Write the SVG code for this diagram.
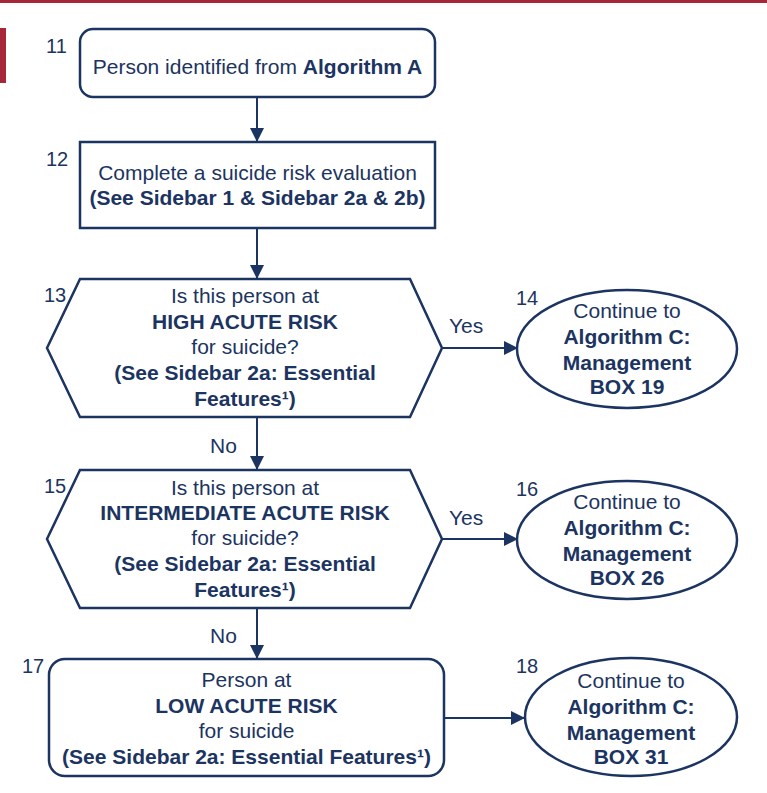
<svg xmlns="http://www.w3.org/2000/svg" width="767" height="793" viewBox="0 0 767 793">
<style>
.t{font-family:"Liberation Sans",Arial,sans-serif;font-size:21px;fill:#1c3461;text-anchor:middle}
.b{font-weight:bold}
.n{font-family:"Liberation Sans",Arial,sans-serif;font-size:20px;fill:#1c3461}
.y{font-family:"Liberation Sans",Arial,sans-serif;font-size:21px;fill:#1c3461}
.s{fill:#fff;stroke:#1c3461;stroke-width:2.5}
.c{stroke:#1c3461;stroke-width:2;fill:none}
</style>
<defs>
<marker id="ah" markerUnits="userSpaceOnUse" markerWidth="14" markerHeight="14" viewBox="0 0 14 14" refX="14" refY="7" orient="auto">
<path d="M0,0 L14,7 L0,14 Z" fill="#1c3461"/>
</marker>
</defs>
<rect x="0" y="0" width="767" height="3" fill="#a6263a"/>
<rect x="0" y="28" width="6" height="55" fill="#a6263a"/>

<g id="connectors">
<line class="c" x1="257" y1="97" x2="257" y2="142" marker-end="url(#ah)"/>
<line class="c" x1="257" y1="228" x2="257" y2="279" marker-end="url(#ah)"/>
<line class="c" x1="257" y1="417" x2="257" y2="470" marker-end="url(#ah)"/>
<line class="c" x1="257" y1="608" x2="257" y2="659" marker-end="url(#ah)"/>
<line class="c" x1="442" y1="348" x2="518" y2="348" marker-end="url(#ah)"/>
<line class="c" x1="442" y1="539" x2="518" y2="539" marker-end="url(#ah)"/>
<line class="c" x1="444" y1="718" x2="525" y2="718" marker-end="url(#ah)"/>
<text class="y" x="449" y="333">Yes</text>
<text class="y" x="449" y="525">Yes</text>
<text class="y" x="210" y="453">No</text>
<text class="y" x="210" y="643">No</text>
</g>

<g id="n11">
<rect class="s" x="80" y="29" width="355" height="68" rx="13"/>
<text class="n" x="46" y="53">11</text>
<text class="t" x="257.5" y="74">Person identified from <tspan class="b">Algorithm A</tspan></text>
</g>

<g id="n12">
<rect class="s" x="80" y="142" width="355" height="86"/>
<text class="n" x="46" y="166">12</text>
<text class="t" x="257.5" y="180">Complete a suicide risk evaluation</text>
<text class="t b" x="257.5" y="205">(See Sidebar 1 &amp; Sidebar 2a &amp; 2b)</text>
</g>

<g id="n13">
<polygon class="s" points="80,279 410,279 442,348 410,417 80,417 47,348"/>
<text class="n" x="44" y="302">13</text>
<text class="t" x="245" y="303">Is this person at</text>
<text class="t b" x="245" y="329">HIGH ACUTE RISK</text>
<text class="t" x="245" y="354">for suicide?</text>
<text class="t b" x="245" y="380">(See Sidebar 2a: Essential</text>
<text class="t b" x="245" y="406">Features¹)</text>
</g>

<g id="n14">
<ellipse class="s" cx="627" cy="349" rx="110" ry="59"/>
<text class="n" x="516" y="305">14</text>
<text class="t" x="627" y="318">Continue to</text>
<text class="t b" x="627" y="344">Algorithm C:</text>
<text class="t b" x="627" y="370">Management</text>
<text class="t b" x="627" y="394">BOX 19</text>
</g>

<g id="n15">
<polygon class="s" points="80,470 410,470 442,539 410,608 80,608 47,539"/>
<text class="n" x="44" y="493">15</text>
<text class="t" x="245" y="495">Is this person at</text>
<text class="t b" x="245" y="520">INTERMEDIATE ACUTE RISK</text>
<text class="t" x="245" y="545">for suicide?</text>
<text class="t b" x="245" y="571">(See Sidebar 2a: Essential</text>
<text class="t b" x="245" y="597">Features¹)</text>
</g>

<g id="n16">
<ellipse class="s" cx="627" cy="540" rx="110" ry="59"/>
<text class="n" x="516" y="496">16</text>
<text class="t" x="627" y="509">Continue to</text>
<text class="t b" x="627" y="535">Algorithm C:</text>
<text class="t b" x="627" y="561">Management</text>
<text class="t b" x="627" y="585">BOX 26</text>
</g>

<g id="n17">
<rect class="s" x="49" y="659" width="395" height="117" rx="16"/>
<text class="n" x="22" y="673">17</text>
<text class="t" x="246.5" y="687">Person at</text>
<text class="t b" x="246.5" y="713">LOW ACUTE RISK</text>
<text class="t" x="246.5" y="738">for suicide</text>
<text class="t b" x="246.5" y="764">(See Sidebar 2a: Essential Features¹)</text>
</g>

<g id="n18">
<ellipse class="s" cx="631" cy="717" rx="106" ry="59"/>
<text class="n" x="516" y="673">18</text>
<text class="t" x="631" y="688">Continue to</text>
<text class="t b" x="631" y="714">Algorithm C:</text>
<text class="t b" x="631" y="740">Management</text>
<text class="t b" x="631" y="764">BOX 31</text>
</g>
</svg>
